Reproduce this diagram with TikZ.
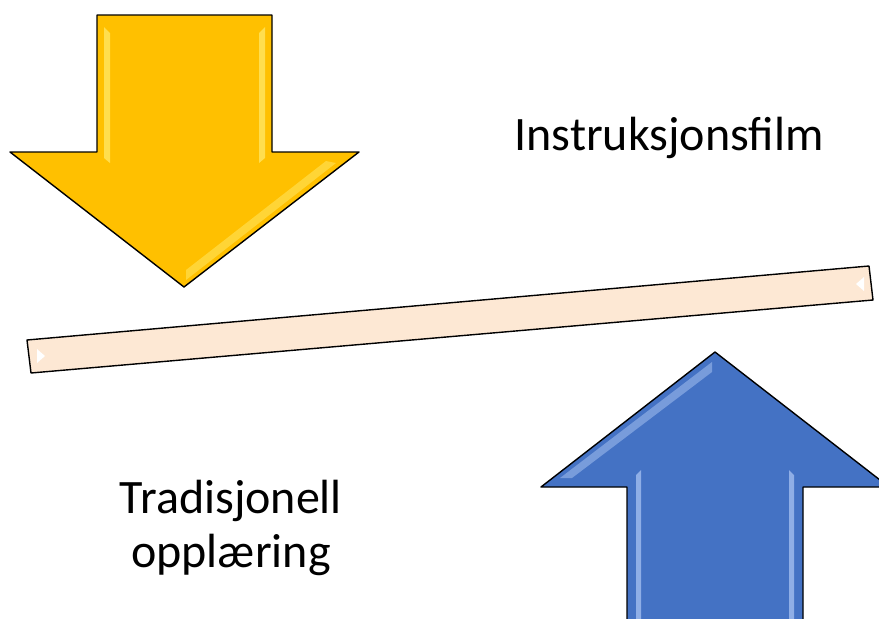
\documentclass[tikz,border=0pt]{standalone}
\usepackage{fontspec}
\setmainfont{Carlito}
\definecolor{gold}{HTML}{FFC000}
\definecolor{goldlight}{HTML}{FFE45C}
\definecolor{royal}{HTML}{4472C4}
\definecolor{royallight}{HTML}{9DB9EC}
\definecolor{peach}{HTML}{FDE8D4}
\tikzset{
  shape outline/.style={draw=black, line width=1.4pt, line join=round},
  bevel/.style={fill=#1, draw=none, opacity=0.85},
  caption/.style={font=\fontsize{48}{54}\selectfont, align=center, inner sep=0pt}
}
\begin{document}
\begin{tikzpicture}[x=1pt, y=-1pt]
\useasboundingbox (0,0) rectangle (879,619);
\begin{scope}
\clip (0,0) rectangle (879,619);

% downward arrow
\path[shape outline, fill=gold] (97,15) -- (272,15) -- (272,152) -- (359,152)
  -- (184,287) -- (10,152) -- (97,152) -- cycle;
\fill[bevel=goldlight] (104,27) -- (110,33) -- (110,163) -- (104,158) -- cycle;
\fill[bevel=goldlight] (265,27) -- (259,33) -- (259,163) -- (265,158) -- cycle;
\fill[bevel=goldlight!70!gold] (336,163) -- (326,161) -- (186,270) -- (186,280) -- cycle;

% upward arrow
\path[shape outline, fill=royal] (715,352) -- (889,487) -- (803,487) -- (803,640)
  -- (627,640) -- (627,487) -- (541,487) -- cycle;
\fill[bevel=royallight] (636,475) -- (641,470) -- (641,625) -- (636,630) -- cycle;
\fill[bevel=royallight] (794,475) -- (789,470) -- (789,625) -- (794,630) -- cycle;
\fill[bevel=royallight!70!royal] (712,362) -- (712,372) -- (572,478) -- (560,478) -- cycle;
\end{scope}

% tilted bar
\path[shape outline, fill=peach] (27,340) -- (869,266) -- (873,300) -- (31,373) -- cycle;
\fill[white] (37,349) -- (37,363) -- (45,356) -- cycle;
\fill[white] (864,277) -- (864,291) -- (856,284) -- cycle;

% captions
\node[caption, anchor=base] (top) at (669,150) {Instruksjonsfilm};
\node[caption, anchor=base] (bottom) at (231,567) {Tradisjonell\\opplæring};
\end{tikzpicture}
\end{document}
